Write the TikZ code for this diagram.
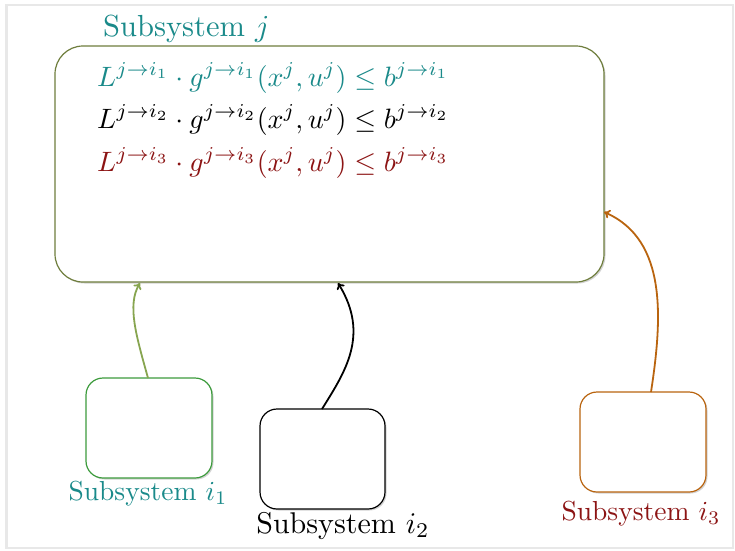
\documentclass[tikz,border=0pt]{standalone}
\usepackage{graphicx}
\usetikzlibrary{arrows.meta,shadows}
\definecolor{tealc}{RGB}{26,138,138}
\definecolor{darkred}{RGB}{140,20,20}
\definecolor{olivec}{RGB}{110,125,60}
\definecolor{greenbox}{RGB}{60,155,60}
\definecolor{greenarrow}{RGB}{135,165,80}
\definecolor{orangec}{RGB}{185,100,15}
\definecolor{framec}{RGB}{232,232,232}
\newcommand{\bigtxt}[2]{\scalebox{#1}{#2}}
\tikzset{
  bigbox/.style={draw=olivec, line width=1.2pt, fill=white, rounded corners=28pt,
    drop shadow={opacity=0.35, shadow xshift=1.5pt, shadow yshift=-1.5pt}},
  smallbox/.style={line width=1.2pt, fill=white, rounded corners=17pt,
    drop shadow={opacity=0.35, shadow xshift=1.5pt, shadow yshift=-1.5pt}},
  lbl/.style={inner sep=0pt, anchor=base},
  eq/.style={inner sep=0pt, anchor=base west},
  conn/.style={line width=1.8pt, -{To[length=6pt,width=9pt]}}
}
\begin{document}
\begin{tikzpicture}[x=1pt,y=-1pt]
\useasboundingbox (0,0) rectangle (735,550);
\draw[framec, line width=2.5pt] (6.5,5) rectangle (733,548);
% main box
\path[bigbox] (55,46) rectangle (604,282);
\node[eq, text=tealc] (title) at (103,36) {\bigtxt{3.05}{Subsystem $j$}};
\node[eq, text=tealc] (eq1) at (97,86) {\bigtxt{2.8}{$L^{j\to i_1}\cdot g^{j\to i_1}(x^j,u^j)\leq b^{j\to i_1}$}};
\node[eq, text=black] (eq2) at (97,128) {\bigtxt{2.8}{$L^{j\to i_2}\cdot g^{j\to i_2}(x^j,u^j)\leq b^{j\to i_2}$}};
\node[eq, text=darkred] (eq3) at (97,171) {\bigtxt{2.8}{$L^{j\to i_3}\cdot g^{j\to i_3}(x^j,u^j)\leq b^{j\to i_3}$}};
% small boxes
\path[smallbox, draw=greenbox] (86,378) rectangle (212,478);
\path[smallbox, draw=black] (260,409) rectangle (385,509);
\path[smallbox, draw=orangec] (580,392) rectangle (706,492);
\coordinate (s1top) at (148,378);
\coordinate (s2top) at (322,409);
\coordinate (s3top) at (651,392);
\coordinate (m1) at (140,283);
\coordinate (m2) at (338,283);
\coordinate (m3) at (604,212);
\node[lbl, text=tealc] (l1) at (148,500) {\bigtxt{2.75}{Subsystem $i_1$}};
\node[lbl, text=black] (l2) at (343,533) {\bigtxt{3.0}{Subsystem $i_2$}};
\node[lbl, text=darkred] (l3) at (641,520) {\bigtxt{2.75}{Subsystem $i_3$}};
% connectors
\draw[conn, greenarrow] (s1top) .. controls (136,335) and (127,305) .. (m1);
\draw[conn, black] (s2top) .. controls (345,372) and (370,335) .. (m2);
\draw[conn, orangec] (s3top) .. controls (662,320) and (668,240) .. (m3);
\end{tikzpicture}
\end{document}
